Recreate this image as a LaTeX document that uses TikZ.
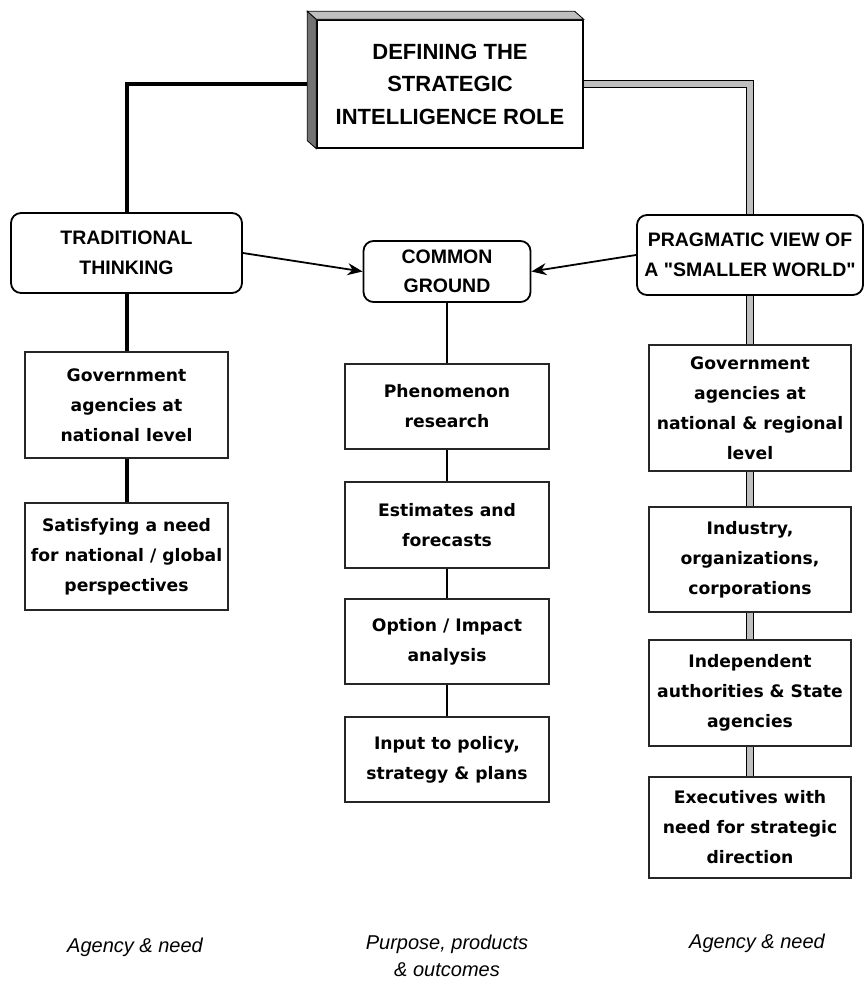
\documentclass[tikz,border=0pt]{standalone}
\usepackage{fontspec}
\setmainfont{Liberation Sans}
\newfontfamily\boxfont{DejaVu Sans}
\usetikzlibrary{arrows.meta}
\begin{document}
\begin{tikzpicture}[x=1pt,y=-1pt,
  hdr/.style={draw=black, line width=1.8pt, rounded corners=10pt, fill=white, align=center,
    font=\bfseries\fontsize{19.5}{29.5}\selectfont, inner sep=0pt},
  item/.style={draw=black!85, line width=1.4pt, fill=white, align=center,
    font=\boxfont\bfseries\fontsize{17.2}{30}\selectfont, inner sep=0pt},
  lbox/.style={item, minimum width=203pt},
  mbox/.style={item, minimum width=204pt},
  rbox/.style={item, minimum width=202pt},
  thickline/.style={line width=4pt, black},
  thinline/.style={line width=2pt, black},
  dbl/.style={draw=black, line width=0.9pt, double=black!25, double distance=6pt, line join=miter},
  arr/.style={line width=1.8pt, -{Stealth[length=15pt,width=12pt]}},
  note/.style={font=\itshape\fontsize{20}{27}\selectfont, align=center}]
\useasboundingbox (0,0) rectangle (865,982);

% title box with 3D faces
\node[draw=black, line width=1.4pt, fill=white, minimum width=266pt, minimum height=128pt,
  font=\bfseries\fontsize{22}{32.5}\selectfont, align=center, inner sep=0pt]
  (top) at (450,84) {DEFINING THE\\STRATEGIC\\INTELLIGENCE ROLE};
\filldraw[fill=black!55, draw=black, line width=0.8pt]
  (top.north west) -- ([shift={(-9,-8)}]top.north west) -- ([shift={(-9,-8)}]top.south west) -- (top.south west) -- cycle;
\filldraw[fill=black!25, draw=black, line width=0.8pt]
  (top.north west) -- ([shift={(-9,-8)}]top.north west) -- ([shift={(-9,-8)}]top.north east) -- (top.north east) -- cycle;

% headers
\node[hdr, minimum width=231pt, minimum height=80pt] (trad) at (126.5,253) {TRADITIONAL\\THINKING};
\node[hdr, minimum width=167pt, minimum height=61pt] (cg) at (447,271.5) {COMMON\\GROUND};
\node[hdr, minimum width=226pt, minimum height=80pt] (prag) at (750,255) {PRAGMATIC VIEW OF\\A \textquotedbl SMALLER WORLD\textquotedbl};

% left column
\node[lbox, minimum height=106pt] (l1) at (126.5,405) {Government\\agencies at\\national level};
\node[lbox, minimum height=107pt] (l2) at (126.5,556.5) {Satisfying a need\\for national / global\\perspectives};

% middle column
\node[mbox, minimum height=85pt] (m1) at (447,406.5) {Phenomenon\\research};
\node[mbox, minimum height=86pt] (m2) at (447,525) {Estimates and\\forecasts};
\node[mbox, minimum height=85pt] (m3) at (447,641.5) {Option / Impact\\analysis};
\node[mbox, minimum height=85pt] (m4) at (447,759.5) {Input to policy,\\strategy \& plans};

% right column
\node[rbox, minimum height=126pt] (r1) at (750,408) {Government\\agencies at\\national \& regional\\level};
\node[rbox, minimum height=105pt] (r2) at (750,559.5) {Industry,\\organizations,\\corporations};
\node[rbox, minimum height=106pt] (r3) at (750,693) {Independent\\authorities \& State\\agencies};
\node[rbox, minimum height=101pt] (r4) at (750,827.5) {Executives with\\need for strategic\\direction};

% connectors
\draw[thickline] ([xshift=-9pt]top.west) -| (trad.north);
\draw[thickline] (trad.south) -- (l1.north);
\draw[thickline] (l1.south) -- (l2.north);

\draw[dbl] (top.east) -| (prag.north);
\draw[dbl] (prag.south) -- (r1.north);
\draw[dbl] (r1.south) -- (r2.north);
\draw[dbl] (r2.south) -- (r3.north);
\draw[dbl] (r3.south) -- (r4.north);

\draw[thinline] (cg.south) -- (m1.north);
\draw[thinline] (m1.south) -- (m2.north);
\draw[thinline] (m2.south) -- (m3.north);
\draw[thinline] (m3.south) -- (m4.north);

\draw[arr] (trad.east) -- (cg.west);
\draw[arr] (prag.west) -- (cg.east);

% notes
\node[note] (n1) at (135,947) {Agency \& need};
\node[note] (n2) at (447,956) {Purpose, products\\\& outcomes};
\node[note] (n3) at (757,943) {Agency \& need};
\end{tikzpicture}
\end{document}
